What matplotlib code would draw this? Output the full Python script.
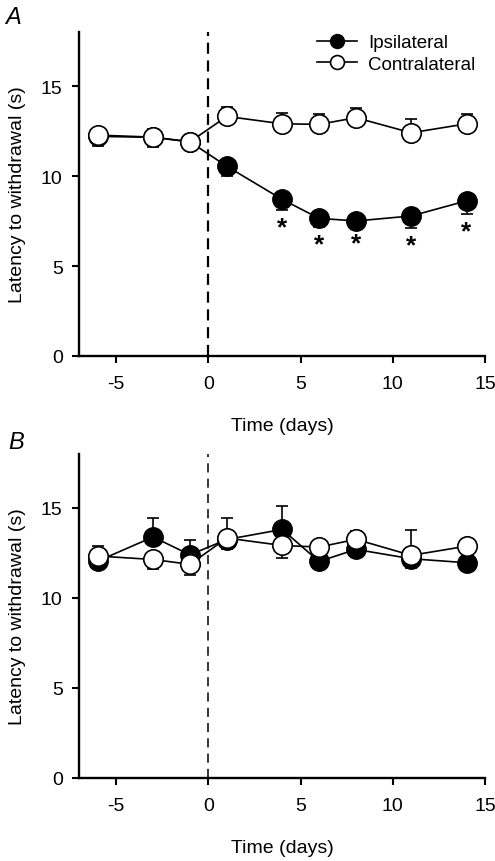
import matplotlib
matplotlib.use("Agg")
import matplotlib.pyplot as plt
from matplotlib.lines import Line2D

plt.rcParams['font.family'] = ['Liberation Sans', 'DejaVu Sans']
plt.rcParams['axes.unicode_minus'] = False

days = [-6, -3, -1, 1, 4, 6, 8, 11, 14]

# panel A
a_ipsi = [12.2, 12.15, 11.9, 10.54, 8.7, 7.65, 7.5, 7.78, 8.62]
a_ipsi_lo = [0.55, 0.55, 0.4, 0.55, 0.6, 0.5, 0.3, 0.65, 0.75]
a_ipsi_hi = [0, 0, 0, 0, 0, 0, 0, 0, 0]
a_contra = [12.27, 12.16, 11.9, 13.31, 12.9, 12.87, 13.24, 12.4, 12.9]
a_contra_lo = [0, 0, 0, 0, 0, 0, 0, 0, 0]
a_contra_hi = [0.4, 0.45, 0.35, 0.53, 0.6, 0.55, 0.55, 0.75, 0.55]
a_signif = [False, False, False, False, True, True, True, True, True]

# panel B
b_ipsi = [12.05, 13.39, 12.4, 13.25, 13.81, 12.03, 12.7, 12.18, 11.96]
b_ipsi_lo = [0, 0, 0, 0.55, 0, 0, 0, 0.52, 0]
b_ipsi_hi = [0, 1.05, 0.84, 0, 1.28, 0, 0, 0, 0]
b_contra = [12.33, 12.14, 11.87, 13.33, 12.92, 12.83, 13.26, 12.37, 12.88]
b_contra_lo = [0, 0.52, 0.58, 0, 0.68, 0, 0, 0, 0]
b_contra_hi = [0.56, 0, 0, 1.13, 0, 0, 0.44, 1.39, 0]

W, H = 495, 862
fig = plt.figure(figsize=(W / 100, H / 100), dpi=100)
axA = fig.add_axes([79.3 / W, 1 - 357 / H, (485 - 79.3) / W, 324 / H])
axB = fig.add_axes([79.3 / W, 1 - 779 / H, (485 - 79.3) / W, 324 / H])


def draw_panel(ax, ipsi, ipsi_lo, ipsi_hi, contra, contra_lo, contra_hi, dash_lw, dashes):
    ax.axvline(0, color='black', lw=dash_lw, ls=(0, dashes), zorder=1)
    ax.errorbar(days, ipsi, yerr=[ipsi_lo, ipsi_hi], fmt='-o', color='black',
                mfc='black', mec='black', ms=14, lw=1.2, elinewidth=1.2,
                capsize=4, capthick=1.2, zorder=3)
    ax.errorbar(days, contra, yerr=[contra_lo, contra_hi], fmt='-o', color='black',
                mfc='white', mec='black', mew=1.2, ms=14, lw=1.2, elinewidth=1.2,
                capsize=4, capthick=1.2, zorder=4)
    ax.set_xlim(-7, 15)
    ax.set_ylim(0, 18)
    ax.set_xticks([-5, 0, 5, 10, 15])
    ax.set_yticks([0, 5, 10, 15])
    for s in ['top', 'right']:
        ax.spines[s].set_visible(False)
    for s in ['left', 'bottom']:
        ax.spines[s].set_linewidth(1.7)
    ax.tick_params(direction='out', length=5, width=1.5, labelsize=14, pad=7)
    ax.tick_params(axis='x', pad=9)
    ax.set_xlabel('Time (days)', fontsize=14, labelpad=18)
    ax.set_ylabel('Latency to withdrawal (s)', fontsize=14, labelpad=11)


draw_panel(axA, a_ipsi, a_ipsi_lo, a_ipsi_hi, a_contra, a_contra_lo, a_contra_hi, 1.6, (5, 3))
draw_panel(axB, b_ipsi, b_ipsi_lo, b_ipsi_hi, b_contra, b_contra_lo, b_contra_hi, 1.1, (6, 4))

# significance stars under the ipsilateral error bars
for x, y, lo, sig in zip(days, a_ipsi, a_ipsi_lo, a_signif):
    if sig:
        axA.text(x, y - lo - 0.3, '*', ha='center', va='top', fontsize=19, fontweight='bold')

handles = [Line2D([], [], color='black', lw=1.2, marker='o', ms=10, mfc='black', mec='black'),
           Line2D([], [], color='black', lw=1.2, marker='o', ms=10, mfc='white', mec='black', mew=1.2)]
axA.legend(handles, ['Ipsilateral', 'Contralateral'], loc='upper right',
           bbox_to_anchor=((475 - 79.3) / 405.7, (357 - 35) / 324), frameon=False, fontsize=13.5,
           handlelength=2.15, labelspacing=0.25, handletextpad=0.55, borderpad=0, borderaxespad=0)

fig.text(5 / W, 1 - 18 / H, 'A', fontsize=17, style='italic', va='center', ha='left')
fig.text(8 / W, 1 - 443 / H, 'B', fontsize=17, style='italic', va='center', ha='left')

fig.savefig('out.png', dpi=100)
